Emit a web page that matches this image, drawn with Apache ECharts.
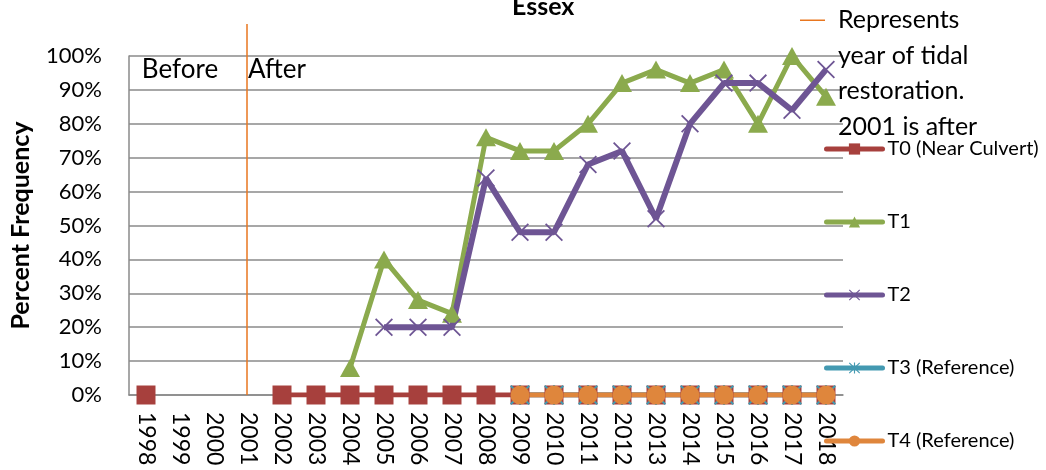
<!DOCTYPE html>
<html>
<head>
<meta charset="utf-8">
<script src="https://cdn.jsdelivr.net/npm/echarts@6/dist/echarts.min.js"></script>
<style>
html,body{margin:0;padding:0;background:#fff;}
#chart{width:1046px;height:470px;}
</style>
</head>
<body>
<div id="chart"></div>
<script>
const years = ['1998','1999','2000','2001','2002','2003','2004','2005','2006','2007','2008','2009','2010','2011','2012','2013','2014','2015','2016','2017','2018'];
const yTicks = [0, 0.1, 0.2, 0.3, 0.4, 0.5, 0.6, 0.7, 0.8, 0.9, 1.0];
const t0 = [0, null, null, null, 0, 0, 0, 0, 0, 0, 0, 0, 0, 0, 0, 0, 0, 0, 0, 0, 0];
const t1 = [null, null, null, null, null, null, 0.08, 0.40, 0.28, 0.24, 0.76, 0.72, 0.72, 0.80, 0.92, 0.96, 0.92, 0.96, 0.80, 1.00, 0.88];
const t2 = [null, null, null, null, null, null, null, 0.20, 0.20, 0.20, 0.64, 0.48, 0.48, 0.68, 0.72, 0.52, 0.80, 0.92, 0.92, 0.84, 0.96];
const t3 = [null, null, null, null, null, null, null, null, null, null, null, 0, 0, 0, 0, 0, 0, 0, 0, 0, 0];
const t4 = [null, null, null, null, null, null, null, null, null, null, null, 0, 0, 0, 0, 0, 0, 0, 0, 0, 0];
const restorationYear = '2001';
const seriesNames = ['T0 (Near Culvert)', 'T1', 'T2', 'T3 (Reference)', 'T4 (Reference)'];
const noteName = 'Represents year of tidal restoration. 2001 is after';
const noteLines = ['Represents', 'year of tidal', 'restoration.', '2001 is after'];
const annotations = [{ name: 'Before', x: '1999', y: 0.96 }, { name: 'After', x: '2002', y: 0.96 }];

const FONT = 'Lato';
const crossPath = 'path://M0,0.7L0.7,0L10,9.3L9.3,10Z M9.3,0L10,0.7L0.7,10L0,9.3Z';
const starPath = 'path://M0,0.7L0.7,0L10,9.3L9.3,10Z M9.3,0L10,0.7L0.7,10L0,9.3Z M4.5,0L5.5,0L5.5,10L4.5,10Z';

const chart = echarts.init(document.getElementById('chart'), null, { renderer: 'canvas' });
const gridLeft = 127, gridRight = 203, gridBottom = 75;

chart.setOption({
  backgroundColor: '#ffffff',
  animation: false,
  title: {
    text: 'Essex',
    left: 512, top: -6, padding: 0,
    textStyle: { fontFamily: FONT, fontSize: 25, fontWeight: 'bold', color: '#000' }
  },
  legend: [
    {
      data: [{ name: noteName, icon: 'rect' }],
      orient: 'vertical',
      left: 800, top: -104, padding: 0,
      itemWidth: 25, itemHeight: 1.5,
      formatter: () => '\n\n\n' + noteLines.join('\n'),
      textStyle: { fontFamily: FONT, fontSize: 25, lineHeight: 35.5, color: '#000', padding: [0, 0, 0, 8] },
      selectedMode: false
    },
    {
      data: seriesNames,
      orient: 'vertical',
      left: 824, top: 139, padding: 0,
      itemWidth: 56, itemHeight: 14, itemGap: 53,
      lineStyle: { width: 5, cap: 'round' },
      textStyle: { fontFamily: FONT, fontSize: 20, lineHeight: 20, color: '#000' },
      selectedMode: false
    }
  ],
  grid: [
    { left: gridLeft, right: gridRight, top: 56, bottom: gridBottom },
    { left: gridLeft, right: gridRight, top: 24, bottom: gridBottom }
  ],
  xAxis: [
    {
      type: 'category', data: years, gridIndex: 0, boundaryGap: true,
      axisLine: { lineStyle: { color: '#8a8a8a', width: 1.5 } },
      axisTick: { inside: true, length: 7, lineStyle: { color: '#8a8a8a', width: 1.5 } },
      axisLabel: { rotate: -90, margin: 17, fontFamily: FONT, fontSize: 23, color: '#000', interval: 0 }
    },
    { type: 'category', data: years, gridIndex: 1, show: false }
  ],
  yAxis: [
    {
      type: 'value', gridIndex: 0, min: 0, max: 1, interval: 0.1,
      name: 'Percent Frequency', nameLocation: 'middle', nameGap: 96,
      nameTextStyle: { fontFamily: FONT, fontSize: 25, fontWeight: 'bold', color: '#000' },
      axisLine: { show: true, lineStyle: { color: '#8a8a8a', width: 1.5 } },
      axisTick: { show: false },
      axisLabel: { margin: 27, fontFamily: FONT, fontSize: 22, color: '#000', formatter: v => Math.round(v * 100) + '%' },
      splitLine: { lineStyle: { color: '#8a8a8a', width: 1.5 } }
    },
    { type: 'value', gridIndex: 1, min: 0, max: 1, show: false }
  ],
  series: [
    {
      name: noteName, type: 'line', xAxisIndex: 1, yAxisIndex: 1,
      data: years.map(() => null), symbol: 'none',
      itemStyle: { color: '#E8761F' },
      lineStyle: { color: '#E8761F', width: 1.5 },
      markLine: {
        silent: true, symbol: 'none', animation: false,
        label: { show: false },
        lineStyle: { color: '#E8761F', width: 1.5, type: 'solid' },
        data: [{ xAxis: restorationYear }]
      }
    },
    {
      name: seriesNames[0], type: 'line', data: t0,
      symbol: 'rect', symbolSize: 19, showAllSymbol: true, connectNulls: false,
      itemStyle: { color: '#A7403D' }, lineStyle: { color: '#A7403D', width: 5 },
      markPoint: {
        silent: true, symbol: 'rect', symbolSize: 1,
        itemStyle: { color: 'rgba(0,0,0,0)' },
        label: { show: true, position: 'inside', formatter: '{b}', fontFamily: FONT, fontSize: 26, color: '#000' },
        data: [
          { name: annotations[0].name, coord: [annotations[0].x, annotations[0].y] },
          { name: annotations[1].name, coord: [annotations[1].x, annotations[1].y], label: { offset: [-5, 0] } }
        ]
      }
    },
    {
      name: seriesNames[1], type: 'line', data: t1,
      symbol: 'triangle', symbolSize: [20, 18], showAllSymbol: true,
      itemStyle: { color: '#8BAA4D' }, lineStyle: { color: '#8BAA4D', width: 5 }
    },
    {
      name: seriesNames[2], type: 'line', data: t2,
      symbol: crossPath, symbolSize: 18, showAllSymbol: true,
      itemStyle: { color: '#6E5594' }, lineStyle: { color: '#6E5594', width: 6 }
    },
    {
      name: seriesNames[3], type: 'line', data: t3,
      symbol: starPath, symbolSize: 20, showAllSymbol: true,
      itemStyle: { color: '#4399B1' }, lineStyle: { color: '#4399B1', width: 5 }
    },
    {
      name: seriesNames[4], type: 'line', data: t4,
      symbol: 'circle', symbolSize: 19, showAllSymbol: true,
      itemStyle: { color: '#DF863C' }, lineStyle: { color: '#DF863C', width: 5 }
    }
  ]
});
</script>
</body>
</html>
